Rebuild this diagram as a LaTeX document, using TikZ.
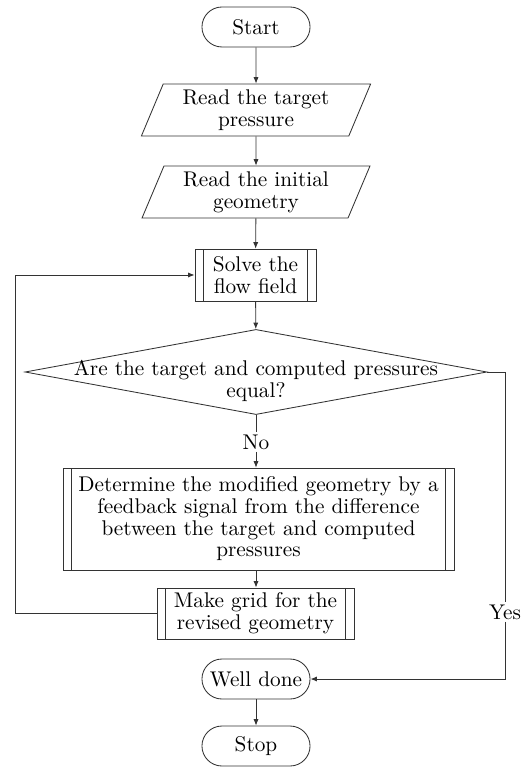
\documentclass[tikz,border=0pt]{standalone}
\usetikzlibrary{shapes.geometric,arrows.meta}
\begin{document}
\begin{tikzpicture}[x=0.47pt,y=-0.47pt,
  font=\fontsize{10}{10.2}\selectfont,
  line width=0.4pt, draw=black!80,
  >={Latex[length=3pt,width=2.4pt]},
  every node/.style={inner sep=0pt, align=center},
  term/.style={draw=black!80, rectangle, rounded corners=9.4pt, minimum width=50.8pt, minimum height=18.8pt},
  io/.style={draw=black!80, trapezium, trapezium left angle=67, trapezium right angle=113, trapezium stretches=true, minimum width=108.1pt, minimum height=24.4pt},
  proc/.style={draw=black!80, rectangle, path picture={
     \draw[black!80] ([xshift=#1]path picture bounding box.north west) -- ([xshift=#1]path picture bounding box.south west);
     \draw[black!80] ([xshift=-#1]path picture bounding box.north east) -- ([xshift=-#1]path picture bounding box.south east);}},
  proc/.default=4pt,
  decision/.style={draw=black!80, diamond, minimum width=217.1pt, minimum height=40pt},
  lbl/.style={fill=white, inner sep=1pt}
]
\useasboundingbox (0,0) rectangle (520,767);
\node[term] (start) at (256,27) {Start};
\node[io] (read1) at (256,110) {Read the target\\pressure};
\node[io] (read2) at (256,192) {Read the initial\\geometry};
\node[proc=4.2pt, minimum width=56.9pt, minimum height=24.4pt] (solve) at (255.5,275) {Solve the\\flow field};
\node[decision] (dec) at (256,372) {};
\node (dect) at (256,381) {Are the target and computed pressures\\equal?};
\node[lbl] (no) at (256,442) {No};
\node[proc=3.9pt, minimum width=183.8pt, minimum height=47.9pt] (det) at (258.5,519) {Determine the modified geometry by a\\feedback signal from the difference\\between the target and computed\\pressures};
\node[proc=3.9pt, minimum width=92.6pt, minimum height=24pt] (grid) at (255.5,613.5) {Make grid for the\\revised geometry};
\node[term] (well) at (256,679) {Well done};
\node[term] (stop) at (256,746) {Stop};
\node[lbl] (yes) at (505,612) {Yes};
\coordinate (lp) at (15,613.5);

\begin{scope}[black!80]
\draw[->] (start) -- (read1);
\draw[->] (read1) -- (read2);
\draw[->] (read2) -- (solve);
\draw[->] (solve) -- (dec);
\draw (dec.south) -- (no.north);
\draw[->] (no.south) -- (no.south |- det.north);
\draw[->] (no.south |- det.south) -- (no.south |- grid.north);
\draw[->] (grid.west) -- (lp) |- (solve.west);
\draw (dec.east) -| (yes.north);
\draw[->] (yes.south) |- (well.east);
\draw[->] (well) -- (stop);
\end{scope}
\end{tikzpicture}
\end{document}
